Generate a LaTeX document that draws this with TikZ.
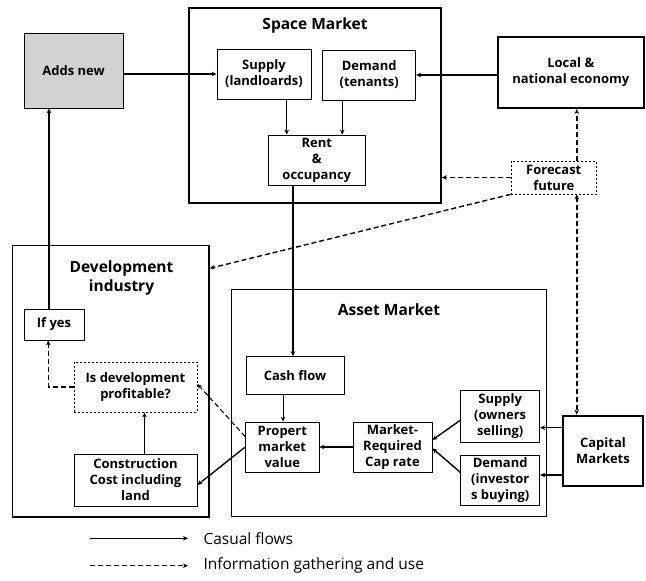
\documentclass[tikz,border=0pt]{standalone}
\usepackage{fontspec}
\setmainfont{Open Sans}
\usetikzlibrary{arrows.meta,calc}
\begin{document}
\begin{tikzpicture}[x=1pt,y=-1pt,
  box/.style={draw,line width=0.8pt,align=center,inner sep=0pt,font=\fontsize{13}{16}\selectfont\bfseries},
  bigbox/.style={draw,line width=2pt,inner sep=0pt},
  midbox/.style={draw,line width=1.5pt,inner sep=0pt},
  dbox/.style={box,dashed,dash pattern=on 2pt off 2pt},
  title/.style={align=center,font=\fontsize{15.5}{19.5}\selectfont\bfseries},
  arr/.style={line width=1.4pt,-{Stealth[length=5pt,width=4.5pt]}},
  darr/.style={arr,dash pattern=on 5pt off 3pt},
  legend/.style={anchor=west,font=\fontsize{15.5}{18}\selectfont}]
\useasboundingbox (0,0) rectangle (646,581);
% big frames
\node[bigbox,minimum width=251.7pt,minimum height=195pt] (space) at (315,105.5) {};
\node[midbox,minimum width=196.3pt,minimum height=271.3pt] (dev) at (110.85,381.35) {};
\node[midbox,minimum width=315pt,minimum height=227.4pt] (asset) at (389.2,403) {};
% titles
\node[title] (spacet) at (315,25) {Space Market};
\node[title] (devt) at (121.5,278) {Development\\industry};
\node[title] (assett) at (389,310) {Asset Market};
% outer boxes
\node[box,fill=gray!35,minimum width=99pt,minimum height=75pt] (adds) at (73.5,70.5) {Adds new};
\node[box,line width=2pt,minimum width=146.3pt,minimum height=71pt] (local) at (570.8,72.5) {Local \&\\national economy};
\node[dbox,minimum width=85.7pt,minimum height=33pt] (fore) at (553.8,177.5) {Forecast\\future};
\node[box,line width=2pt,minimum width=80pt,minimum height=70pt] (cap) at (603,450.7) {Capital\\Markets};
% space market
\node[box,minimum width=94pt,minimum height=50pt] (sup) at (264,74) {Supply\\(landloards)};
\node[box,minimum width=93pt,minimum height=50pt] (dem) at (369.2,75) {Demand\\(tenants)};
\node[box,minimum width=97.7pt,minimum height=50pt] (rent) at (316.8,160) {Rent\\\&\\occupancy};
% development
\node[box,minimum width=60pt,minimum height=31pt] (ifyes) at (54,324.5) {If yes};
\node[dbox,minimum width=123pt,minimum height=50pt] (prof) at (135.5,387) {Is development\\profitable?};
\node[box,minimum width=123pt,minimum height=52pt] (cons) at (135.5,480) {Construction\\Cost including\\land};
% asset market
\node[box,minimum width=98pt,minimum height=37.3pt] (cash) at (295,375.3) {Cash flow};
\node[box,minimum width=73.3pt,minimum height=50pt] (prop) at (282.3,447) {Propert\\market\\value};
\node[box,minimum width=79pt,minimum height=50pt] (rate) at (392.5,447) {Market-\\Required\\Cap rate};
\node[box,minimum width=79pt,minimum height=51.7pt] (own) at (500.2,416.2) {Supply\\(owners\\selling)};
\node[box,minimum width=79pt,minimum height=50.7pt] (inv) at (500.2,480.3) {Demand\\(investor\\s buying)};
% helper coordinates
\coordinate (ownA) at ([yshift=-11.5pt]own.east);
\coordinate (invA) at ([yshift=5.3pt]inv.east);
% causal flows
\draw[arr] (adds.east |- sup) -- (sup.west);
\draw[arr] (local.west |- dem) -- (dem.east);
\draw[arr] ([xshift=22.7pt]sup.south) -- ([xshift=22.7pt]sup.south |- rent.north);
\draw[arr] ([xshift=-27pt]dem.south) -- ([xshift=-27pt]dem.south |- rent.north);
\draw[arr] ([xshift=-2pt]cash.north |- rent.south) -- ([xshift=-2pt]cash.north);
\draw[arr] ([xshift=-5pt]ifyes.north) -- ([xshift=-5pt]ifyes.north |- adds.south);
\draw[arr] ([xshift=9pt]cons.north) -- ([xshift=9pt]cons.north |- prof.south);
\draw[arr,line width=0.8pt] ([xshift=-12pt]cash.south) -- ([xshift=-12pt]cash.south |- prop.north);
\draw[arr] (rate.west) -- (prop.east);
\draw[arr] (prop.west) -- ([yshift=-5pt]cons.east);
\draw[arr] ([yshift=-4pt]own.west) -- ([yshift=7pt]rate.east);
\draw[arr] ([yshift=8pt]inv.west) -- ([yshift=-1.3pt]rate.east);
\draw[arr] (cap.west |- ownA) -- (ownA);
\draw[arr] (cap.west |- invA) -- (invA);
% information flows
\draw[darr] (fore.west) -- (fore.west -| space.east);
\draw[darr] ([xshift=23pt]fore.north) -- ([xshift=23pt]fore.north |- local.south);
\draw[darr,{Stealth[length=5pt,width=4.5pt]}-{Stealth[length=5pt,width=4.5pt]}] ([xshift=23pt]fore.south) -- ([xshift=23pt]fore.south |- cap.north);
\draw[darr] (fore.south west) -- ([yshift=113pt]dev.east);
\draw[darr] (prof.west) -| ([xshift=-5.7pt]ifyes.south);
\draw[darr,line width=1.1pt] ([yshift=10.3pt]prop.west) -- ([yshift=3pt]prof.east);
% legend
\coordinate (l1a) at (90,538.3);
\coordinate (l1b) at (188,538.3);
\coordinate (l2a) at (90,565.7);
\coordinate (l2b) at (188,565.7);
\draw[arr,line width=1.1pt] (l1a) -- (l1b);
\draw[darr,line width=1.1pt] (l2a) -- (l2b);
\node[legend] (lg1) at (200,538.3) {Casual flows};
\node[legend] (lg2) at (200,565.7) {Information gathering and use};
\end{tikzpicture}
\end{document}
